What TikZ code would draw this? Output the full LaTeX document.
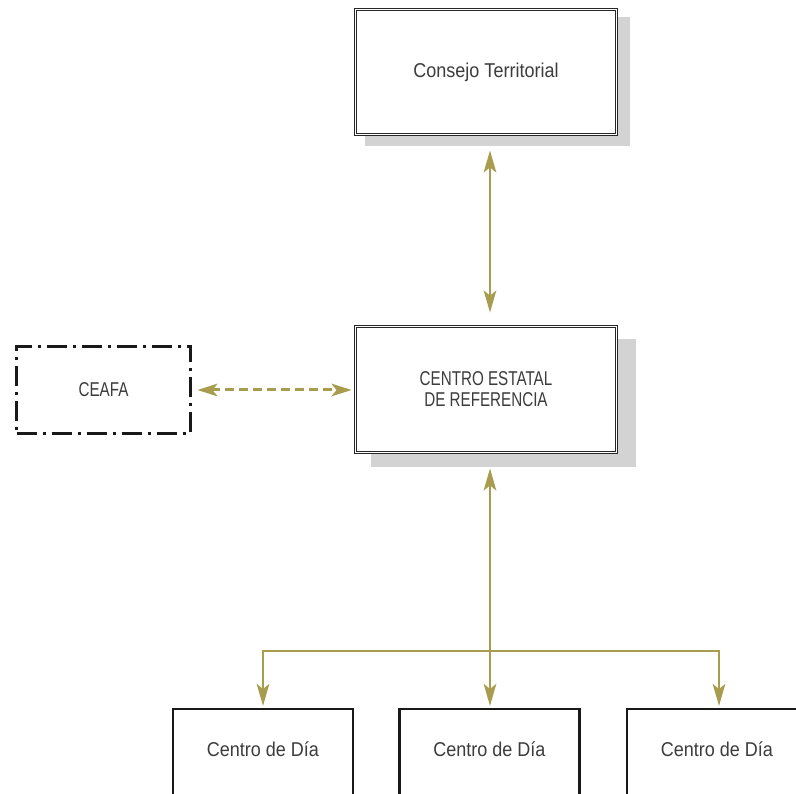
\documentclass[tikz,border=0pt]{standalone}
\usepackage{fontspec}
\setmainfont{Liberation Sans}
\newfontfamily\lowfont[FakeStretch=0.9]{Liberation Sans}
\newfontfamily\capfont[FakeStretch=0.76]{Liberation Sans}
\usetikzlibrary{arrows.meta}
\definecolor{oliveline}{HTML}{A89D4F}
\definecolor{shadowc}{HTML}{D3D3D3}
\definecolor{txtc}{HTML}{3C3C3C}
\begin{document}
\begin{tikzpicture}[x=1pt,y=-1pt,
  every node/.style={text=txtc, font=\fontsize{20}{21}\selectfont},
  dbox/.style={draw=black!85, double=white, double distance=1.4pt, line width=0.95pt,
    fill=white, minimum width=260.7pt, minimum height=124.7pt, inner sep=0pt, align=center},
  ceafabox/.style={draw=black!90, line width=2.8pt, dash pattern=on 20pt off 6pt on 3pt off 6pt,
    minimum width=174pt, minimum height=87pt, inner sep=0pt},
  daybox/.style={draw=black!90, line width=2.2pt, minimum width=180pt, minimum height=130pt,
    inner sep=0pt, anchor=north},
  tip/.style={Stealth[length=22pt,width=12.5pt,inset=5pt]},
  conn/.style={draw=oliveline, line width=2.6pt},
  bi/.style={conn, {Stealth[length=22pt,width=12.5pt,inset=5pt]}-{Stealth[length=22pt,width=12.5pt,inset=5pt]}},
  one/.style={conn, -{Stealth[length=22pt,width=12.5pt,inset=5pt]}},
  dsh/.style={conn, line width=3pt, dash pattern=on 9pt off 5pt,
    {Stealth[length=20pt,width=12.5pt,inset=5pt]}-{Stealth[length=20pt,width=12.5pt,inset=5pt]}}
]
\useasboundingbox (0,0) rectangle (796,794);
\clip (0,0) rectangle (796,794);
\fill[white] (0,0) rectangle (796,794);

% top box
\fill[shadowc] (365,17) rectangle (630,146);
\node[dbox] (top) at (486,72) {\lowfont Consejo Territorial};

% middle box
\fill[shadowc] (371,339) rectangle (636,467);
\node[dbox, minimum height=125.7pt] (mid) at (486,389.5) {\capfont CENTRO ESTATAL\\\capfont DE REFERENCIA};

% CEAFA
\node[ceafabox] (ceafa) at (103.5,390) {\capfont CEAFA};

% bottom boxes
\node[daybox] (d1) at (263,708) {};
\node[daybox] (d2) at (489.5,708) {};
\node[daybox] (d3) at (717,708) {};
\node (t1) at (263,749) {\lowfont Centro de Día};
\node (t2) at (489.5,749) {\lowfont Centro de Día};
\node (t3) at (717,749) {\lowfont Centro de Día};

% connectors
\coordinate (vx) at (490,0);
\coordinate (j) at (490,651);
\draw[bi, shorten <=15.6pt, shorten >=13.6pt] (vx |- top.south) -- (vx |- mid.north);
\draw[bi, shorten <=15.6pt, shorten >=2pt] (vx |- mid.south) -- (vx |- d2.north);
\draw[one, shorten >=2pt] (j) -| ([xshift=0pt]d1.north);
\draw[one, shorten >=2pt] (j) -| ([xshift=2pt]d3.north);
\draw[dsh, shorten <=5.5pt, shorten >=3.6pt] (ceafa.east) -- (ceafa.east -| mid.west);
\end{tikzpicture}
\end{document}
